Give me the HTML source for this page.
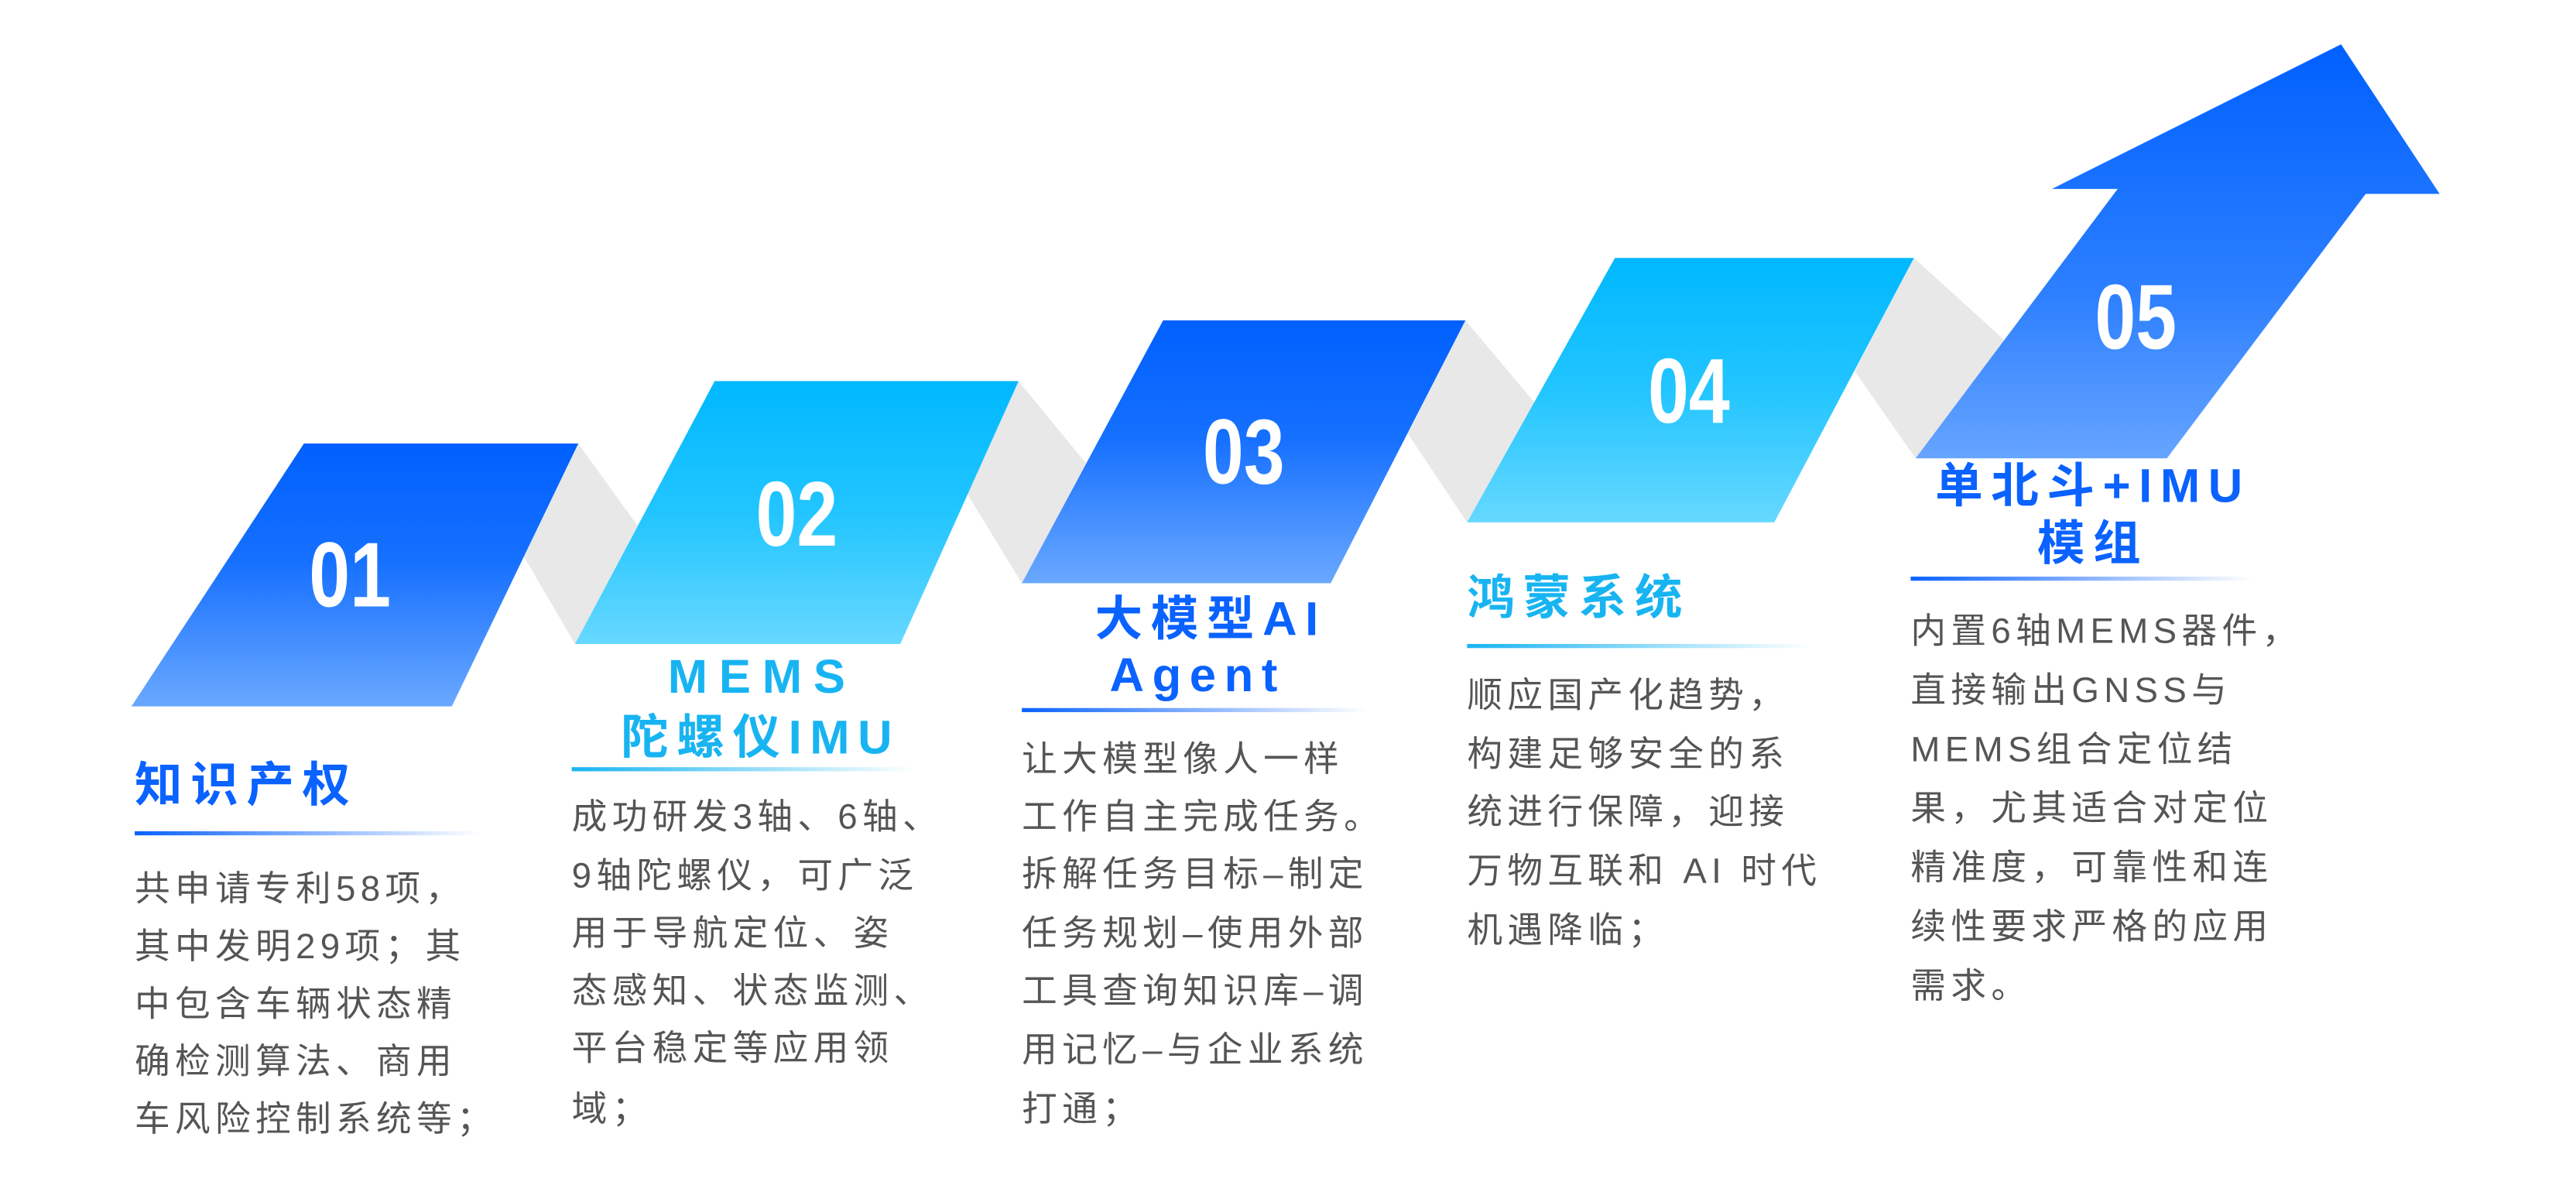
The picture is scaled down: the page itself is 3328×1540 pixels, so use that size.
<!DOCTYPE html>
<html><head><meta charset="utf-8"><style>
html,body{margin:0;padding:0;background:#fff;}
svg{display:block;}
text{font-family:"Liberation Sans","Noto Sans CJK SC",sans-serif;}
.n{fill:#fff;font-weight:bold;font-size:56px;text-anchor:middle;dominant-baseline:central;}
.b{fill:#555;font-size:21.5px;letter-spacing:3px;dominant-baseline:central;}
.tb{fill:#0a62ff;font-weight:bold;font-size:29px;letter-spacing:5px;dominant-baseline:central;}
.tc{fill:#18b4f2;font-weight:bold;font-size:29px;letter-spacing:5px;dominant-baseline:central;}
</style></head><body>
<svg width="3328" height="1540" viewBox="0 0 1568 725.6" preserveAspectRatio="none">
<defs>
<linearGradient id="gb" x1="0" y1="0" x2="0" y2="1"><stop offset="0" stop-color="#0060ff"/><stop offset="0.45" stop-color="#1670ff"/><stop offset="1" stop-color="#6aa8ff"/></linearGradient>
<linearGradient id="gc" x1="0" y1="0" x2="0" y2="1"><stop offset="0" stop-color="#00b8ff"/><stop offset="0.5" stop-color="#22c5ff"/><stop offset="1" stop-color="#66d8ff"/></linearGradient>
<linearGradient id="ga" x1="0" y1="0" x2="0" y2="1"><stop offset="0" stop-color="#0060ff"/><stop offset="0.6" stop-color="#2c7fff"/><stop offset="1" stop-color="#66a4ff"/></linearGradient>
<linearGradient id="lb" x1="0" y1="0" x2="1" y2="0"><stop offset="0" stop-color="#0a62ff"/><stop offset="1" stop-color="#0a62ff" stop-opacity="0"/></linearGradient>
<linearGradient id="lc" x1="0" y1="0" x2="1" y2="0"><stop offset="0" stop-color="#18b4f2"/><stop offset="1" stop-color="#18b4f2" stop-opacity="0"/></linearGradient>
</defs>
<g fill="#e8e8e8">
<polygon points="352,270 388,320 350,392 319,339"/>
<polygon points="620,232 661,282 622,355 589,301"/>
<polygon points="892,195 934,245 893,318 857,264"/>
<polygon points="1165,157 1220,207 1166,279 1129,226"/>
</g>
<polygon points="185,270 352,270 275,430 80,430" fill="url(#gb)"/>
<polygon points="435,232 620,232 548,392 350,392" fill="url(#gc)"/>
<polygon points="708,195 892,195 810,355 622,355" fill="url(#gb)"/>
<polygon points="983,157 1165,157 1080,318 893,318" fill="url(#gc)"/>
<polygon points="1166,279 1289,115 1249,115 1425,27 1485,118 1440,118 1319,279" fill="url(#ga)"/>
<text class="n" transform="translate(213,350) scale(0.8,1)">01</text>
<text class="n" transform="translate(485,313) scale(0.8,1)">02</text>
<text class="n" transform="translate(757,275) scale(0.8,1)">03</text>
<text class="n" transform="translate(1028,238) scale(0.8,1)">04</text>
<text class="n" transform="translate(1300,193) scale(0.8,1)">05</text>

<text class="tb" x="82" y="478">知识产权</text>
<rect x="82" y="506" width="210" height="2.5" fill="url(#lb)"/>
<text class="b" x="82" y="541">共申请专利58项，</text>
<text class="b" x="82" y="576">其中发明29项；其</text>
<text class="b" x="82" y="611">中包含车辆状态精</text>
<text class="b" x="82" y="646">确检测算法、商用</text>
<text class="b" x="82" y="681">车风险控制系统等；</text>

<text class="tc" x="464" y="412" text-anchor="middle" style="letter-spacing:7px">MEMS</text>
<text class="tc" x="463" y="449" text-anchor="middle">陀螺仪IMU</text>
<rect x="348" y="467" width="208" height="2.5" fill="url(#lc)"/>
<text class="b" x="348" y="497">成功研发3轴、6轴、</text>
<text class="b" x="348" y="533">9轴陀螺仪，可广泛</text>
<text class="b" x="348" y="568">用于导航定位、姿</text>
<text class="b" x="348" y="603">态感知、状态监测、</text>
<text class="b" x="348" y="638">平台稳定等应用领</text>
<text class="b" x="348" y="675">域；</text>

<text class="tb" x="737" y="377" text-anchor="middle">大模型AI</text>
<text class="tb" x="729" y="411" text-anchor="middle">Agent</text>
<rect x="622" y="431" width="210" height="2.5" fill="url(#lb)"/>
<text class="b" x="622" y="462">让大模型像人一样</text>
<text class="b" x="622" y="497">工作自主完成任务。</text>
<text class="b" x="622" y="532">拆解任务目标–制定</text>
<text class="b" x="622" y="568">任务规划–使用外部</text>
<text class="b" x="622" y="603">工具查询知识库–调</text>
<text class="b" x="622" y="639">用记忆–与企业系统</text>
<text class="b" x="622" y="675">打通；</text>

<text class="tc" x="893" y="364">鸿蒙系统</text>
<rect x="893" y="392" width="208" height="2.5" fill="url(#lc)"/>
<text class="b" x="893" y="423">顺应国产化趋势，</text>
<text class="b" x="893" y="459">构建足够安全的系</text>
<text class="b" x="893" y="494">统进行保障，迎接</text>
<text class="b" x="893" y="530">万物互联和 AI 时代</text>
<text class="b" x="893" y="566">机遇降临；</text>

<text class="tb" x="1274" y="296" text-anchor="middle">单北斗+IMU</text>
<text class="tb" x="1274" y="331" text-anchor="middle">模组</text>
<rect x="1163" y="351" width="208" height="2.5" fill="url(#lb)"/>
<text class="b" x="1163" y="384">内置6轴MEMS器件，</text>
<text class="b" x="1163" y="420">直接输出GNSS与</text>
<text class="b" x="1163" y="456">MEMS组合定位结</text>
<text class="b" x="1163" y="492">果，尤其适合对定位</text>
<text class="b" x="1163" y="528">精准度，可靠性和连</text>
<text class="b" x="1163" y="564">续性要求严格的应用</text>
<text class="b" x="1163" y="600">需求。</text>
</svg>
</body></html>
